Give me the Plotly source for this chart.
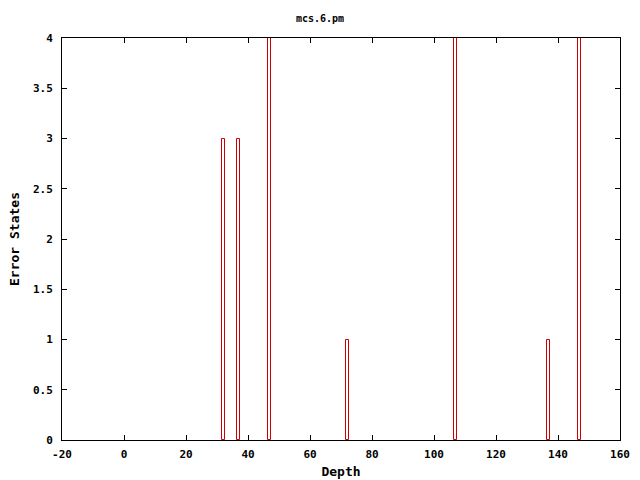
import plotly.graph_objects as go

depth = [32, 37, 47, 72, 107, 137, 147]
error_states = [3, 3, 4, 1, 4, 1, 4]
x_ticks = [-20, 0, 20, 40, 60, 80, 100, 120, 140, 160]
y_ticks = [0, 0.5, 1, 1.5, 2, 2.5, 3, 3.5, 4]
y_labels = ["0", "0.5", "1", "1.5", "2", "2.5", "3", "3.5", "4"]

font = dict(family="DejaVu Sans Mono", size=11, color="black")

fig = go.Figure(go.Bar(
    x=depth, y=error_states, width=1,
    marker=dict(color="rgba(0,0,0,0)", line=dict(color="#cc0000", width=1)),
))
fig.update_layout(
    width=640, height=480,
    margin=dict(l=62, r=20, t=38, b=40, autoexpand=False),
    paper_bgcolor="white", plot_bgcolor="white",
    font=font,
    showlegend=False,
    title=dict(text="<b>mcs.6.pm</b>", x=0.5, xanchor="center", y=0.962, yanchor="middle", font=dict(family="DejaVu Sans Mono", size=10, color="black")),
    bargap=0,
)
fig.update_xaxes(
    range=[-20, 160], tickvals=x_ticks, ticktext=[f"<b>{v}</b>" for v in x_ticks],
    ticks="inside", ticklen=5, tickcolor="black", mirror="ticks",
    showline=True, linecolor="black", linewidth=1, showgrid=False, zeroline=False,
    ticklabelstandoff=4,
    title=dict(text="<b>Depth</b>", standoff=6),
)
fig.update_yaxes(
    range=[0, 4], tickvals=y_ticks, ticktext=[f"<b>{v}</b>" for v in y_labels],
    ticks="inside", ticklen=5, tickcolor="black", mirror="ticks",
    showline=True, linecolor="black", linewidth=1, showgrid=False, zeroline=False,
    ticklabelstandoff=6,
    title=dict(text="<b>Error States</b>", standoff=10),
)
fig.write_html("out.html", config={"displayModeBar": False},
               post_script="document.body.style.margin='0';")
